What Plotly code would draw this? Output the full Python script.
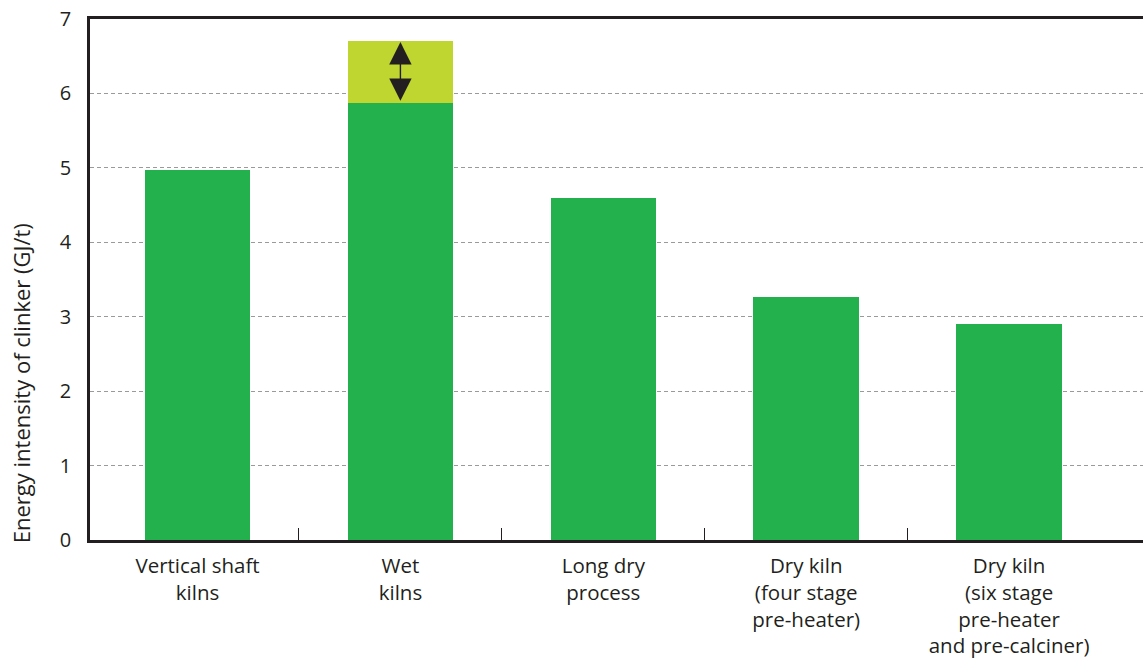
import plotly.graph_objects as go

categories = ["Vertical shaft<br>kilns", "Wet<br>kilns", "Long dry<br>process",
              "Dry kiln<br>(four stage<br>pre-heater)",
              "Dry kiln<br>(six stage<br>pre-heater<br>and pre-calciner)"]
low_values = [4.97, 5.87, 4.6, 3.26, 2.9]
range_top = [None, 6.7, None, None, None]
extra = [None if t is None else round(t - l, 3) for t, l in zip(range_top, low_values)]
y_ticks = [0, 1, 2, 3, 4, 5, 6, 7]
y_title = "Energy intensity of clinker (GJ/t)"

DARK = "#231f20"
FONT = "Open Sans"

fig = go.Figure()
fig.add_trace(go.Bar(x=list(range(len(categories))), y=low_values, marker_color="#23b14d",
                     width=0.52, marker_line_width=0, showlegend=False))
fig.add_trace(go.Bar(x=list(range(len(categories))), y=extra, marker_color="#bfd630",
                     width=0.52, marker_line_width=0, showlegend=False))

# double-headed arrow showing the range for wet kilns
fig.add_annotation(x=1, y=range_top[1] - 0.01, ax=1, ay=low_values[1] + 0.01,
                   xref="x", yref="y", axref="x", ayref="y", text="",
                   showarrow=True, arrowhead=2, arrowside="end+start",
                   arrowsize=3.2, arrowwidth=1.4, arrowcolor=DARK)

# y-axis title (placed lower than centre, as in the original)
fig.add_annotation(text=y_title, xref="paper", yref="paper", x=-0.066, y=0.30,
                   textangle=-90, showarrow=False, xanchor="center", yanchor="middle",
                   font=dict(size=22, color=DARK, family=FONT))

# boundary ticks between categories
fig.add_trace(go.Scatter(x=[0.5], y=[0], xaxis="x2", mode="markers",
                         marker_opacity=0, showlegend=False, hoverinfo="skip"))

xr = [-0.53, 4.66]
fig.update_layout(
    width=1143, height=658,
    margin=dict(l=90, r=0, t=19, b=118),
    plot_bgcolor="white", paper_bgcolor="white",
    barmode="stack", bargap=0,
    font=dict(family=FONT, color=DARK, size=19),
    xaxis=dict(range=xr, tickmode="array", tickvals=list(range(len(categories))),
               ticktext=categories, showline=True, mirror=True, linecolor=DARK,
               linewidth=2.5, ticks="", showgrid=False, zeroline=False,
               tickfont=dict(size=20.5, color=DARK, family=FONT), ticklabelstandoff=6),
    xaxis2=dict(range=xr, overlaying="x", tickmode="array", tickvals=[0.5, 1.5, 2.5, 3.5],
                ticks="inside", ticklen=12, tickwidth=1, tickcolor=DARK,
                showticklabels=False, showgrid=False, zeroline=False, side="bottom",
                anchor="y"),
    yaxis=dict(range=[0, 7], tickmode="array", tickvals=y_ticks,
               showline=True, linecolor=DARK, linewidth=2.5, ticks="",
               showgrid=True, gridcolor="#9a9a9a", griddash="4px,3px", gridwidth=1,
               zeroline=False, tickfont=dict(size=20, color=DARK, family=FONT),
               ticklabelstandoff=12),
)

fig.write_html("out.html")
